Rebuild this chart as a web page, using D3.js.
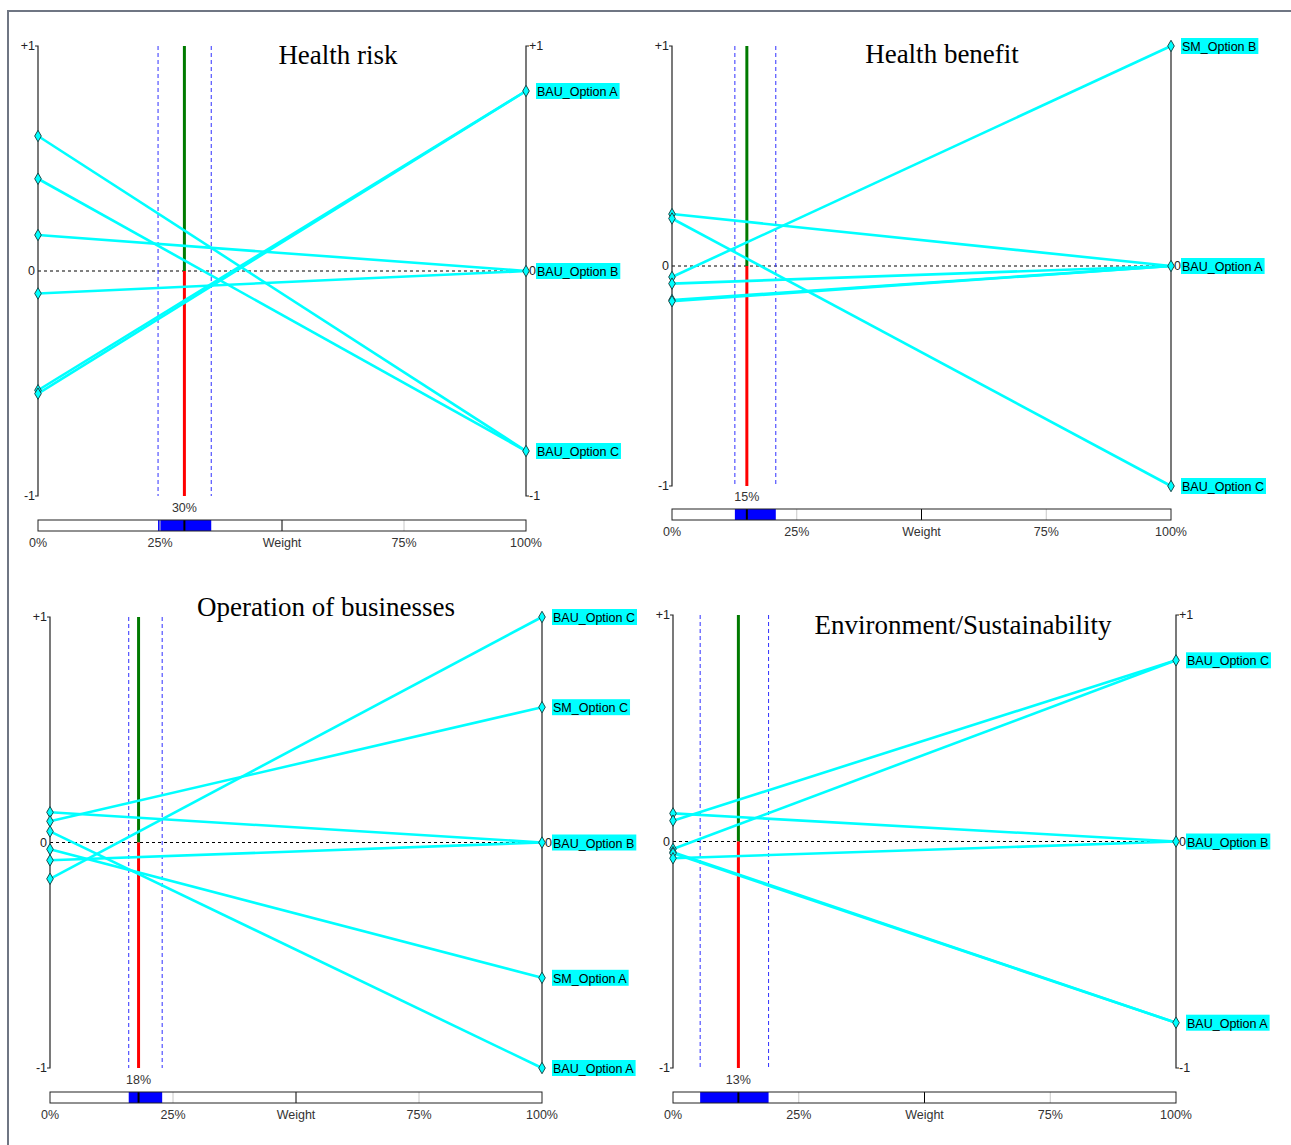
<!DOCTYPE html>
<html>
<head>
<meta charset="utf-8">
<script src="https://cdn.jsdelivr.net/npm/d3@7"></script>
<style>
  body { margin: 0; background: #fff; }
  svg { display: block; }
</style>
</head>
<body>
<svg id="chart" width="1291" height="1145"></svg>
<script>
// chart data
const titles = ['Health risk', 'Health benefit', 'Operation of businesses', 'Environment/Sustainability']
const weights = [0.30, 0.15, 0.18, 0.13]
const weightLow = [0.246, 0.126, 0.16, 0.054]
const weightHigh = [0.355, 0.208, 0.228, 0.19]
// overall value of each line at 0% weight and at 100% weight
const valuesAtZero = [
  [0.60, 0.41, 0.16, -0.10, -0.53, -0.545],
  [0.236, 0.216, -0.05, -0.08, -0.155, -0.16],
  [0.134, 0.094, 0.049, -0.03, -0.079, -0.161],
  [0.124, 0.092, -0.033, -0.047, -0.052, -0.074]
]
const valuesAtFull = [
  [-0.8, -0.8, 0, 0, 0.8, 0.8],
  [0, -1, 1, 0, 0, 0],
  [0, 0.6, -1, -0.6, 0, 1],
  [0, 0.8, 0.8, -0.8, -0.8, 0]
]
const endLabelNames = [
  ['BAU_Option A', 'BAU_Option B', 'BAU_Option C'],
  ['SM_Option B', 'BAU_Option A', 'BAU_Option C'],
  ['BAU_Option C', 'SM_Option C', 'BAU_Option B', 'SM_Option A', 'BAU_Option A'],
  ['BAU_Option C', 'BAU_Option B', 'BAU_Option A']
]
const endLabelValues = [
  [0.8, 0, -0.8],
  [1, 0, -1],
  [1, 0.6, 0, -0.6, -1],
  [0.8, 0, -0.8]
]
const axisTickValues = [1, 0, -1]
const axisTickLabels = ['+1', '0', '-1']
const barTickValues = [0, 0.25, 0.5, 0.75, 1]
const barTickLabels = ['0%', '25%', 'Weight', '75%', '100%']

// layout of the four panels
const layout = [
  { xL: 38, xR: 526, yTop: 46, yBot: 496, barY: 520, titleX: 338, titleY: 64 },
  { xL: 672, xR: 1171, yTop: 46, yBot: 486, barY: 509, titleX: 942, titleY: 63 },
  { xL: 50, xR: 542, yTop: 617, yBot: 1068, barY: 1092, titleX: 326, titleY: 616 },
  { xL: 673, xR: 1176, yTop: 615, yBot: 1068, barY: 1092, titleX: 963, titleY: 634 }
]

const svg = d3.select('#chart')
const sans = 'Liberation Sans, Arial, sans-serif'

// outer frame
svg.append('path')
  .attr('d', 'M8,1145 L8,11 L1291,11')
  .attr('fill', 'none')
  .attr('stroke', '#6f7683')
  .attr('stroke-width', 2)

titles.forEach((title, i) => {
  const L = layout[i]
  const x = d3.scaleLinear().domain([0, 1]).range([L.xL, L.xR])
  const y = d3.scaleLinear().domain([-1, 1]).range([L.yBot, L.yTop])
  const g = svg.append('g')

  // zero line
  g.append('line')
    .attr('x1', x(0)).attr('x2', x(1))
    .attr('y1', y(0)).attr('y2', y(0))
    .attr('stroke', '#000')
    .attr('stroke-dasharray', '3,3')

  // weight interval (dashed blue)
  g.selectAll('.wint')
    .data([weightLow[i], weightHigh[i]])
    .join('line')
    .attr('x1', (d) => x(d)).attr('x2', (d) => x(d))
    .attr('y1', y(1)).attr('y2', y(-1))
    .attr('stroke', '#3030ff')
    .attr('stroke-dasharray', '4,3')

  // current weight line
  g.append('line')
    .attr('x1', x(weights[i])).attr('x2', x(weights[i]))
    .attr('y1', y(1)).attr('y2', y(0))
    .attr('stroke', '#007a00')
    .attr('stroke-width', 3)
  g.append('line')
    .attr('x1', x(weights[i])).attr('x2', x(weights[i]))
    .attr('y1', y(0)).attr('y2', y(-1))
    .attr('stroke', '#ff0000')
    .attr('stroke-width', 3)

  // axes
  ;[L.xL, L.xR].forEach((ax, side) => {
    const dir = side === 0 ? -1 : 1
    g.append('path')
      .attr('d', `M${ax + dir * 3},${y(1)} L${ax},${y(1)} L${ax},${y(-1)} L${ax + dir * 3},${y(-1)}`)
      .attr('fill', 'none')
      .attr('stroke', '#222')
      .attr('stroke-width', 1.2)
    // on the right, +1/-1 are hidden under an end label sitting on them
    const ticks = side === 0
      ? axisTickValues
      : axisTickValues.filter((v) => v === 0 || !endLabelValues[i].includes(v))
    g.selectAll('.tick' + side)
      .data(ticks)
      .join('text')
      .attr('x', ax + dir * 3)
      .attr('y', (d) => y(d) + 4)
      .attr('text-anchor', side === 0 ? 'end' : 'start')
      .style('font-family', sans)
      .style('font-size', '12.5px')
      .style('fill', '#222')
      .text((d) => axisTickLabels[axisTickValues.indexOf(d)])
  })

  // sensitivity lines
  const lineData = valuesAtZero[i].map((v, k) => [v, valuesAtFull[i][k]])
  g.selectAll('.sens')
    .data(lineData)
    .join('line')
    .attr('x1', x(0)).attr('x2', x(1))
    .attr('y1', (d) => y(d[0]))
    .attr('y2', (d) => y(d[1]))
    .attr('stroke', '#00ffff')
    .attr('stroke-width', 2.6)

  const diamond = d3.symbol().type(d3.symbolDiamond).size(38)
  g.selectAll('.ptL')
    .data(valuesAtZero[i])
    .join('path')
    .attr('d', diamond)
    .attr('transform', (d) => `translate(${x(0)},${y(d)})`)
    .attr('fill', '#00ffff')
    .attr('stroke', '#1d4a4a')
    .attr('stroke-width', 1)
  g.selectAll('.ptR')
    .data(endLabelValues[i])
    .join('path')
    .attr('d', diamond)
    .attr('transform', (d) => `translate(${x(1)},${y(d)})`)
    .attr('fill', '#00ffff')
    .attr('stroke', '#1d4a4a')
    .attr('stroke-width', 1)

  // end labels
  const lab = g.selectAll('.lab')
    .data(endLabelValues[i])
    .join('g')
    .attr('transform', (d) => `translate(${x(1) + 10},${y(d)})`)
  const labText = lab.append('text')
    .attr('x', 1).attr('y', 5)
    .style('font-family', sans)
    .style('font-size', '12.5px')
    .style('fill', '#000')
    .text((d, k) => endLabelNames[i][k])
  lab.insert('rect', 'text')
    .attr('x', 0).attr('y', -8)
    .attr('width', function () { return this.parentNode.querySelector('text').getComputedTextLength() + 3 })
    .attr('height', 16)
    .attr('fill', '#00ffff')

  // title
  g.append('text')
    .attr('x', L.titleX).attr('y', L.titleY)
    .attr('text-anchor', 'middle')
    .style('font-family', 'Liberation Serif, Times New Roman, serif')
    .style('font-size', '27px')
    .style('fill', '#000')
    .text(title)

  // weight bar
  g.append('rect')
    .attr('x', x(0)).attr('y', L.barY)
    .attr('width', x(1) - x(0)).attr('height', 11)
    .attr('fill', '#fff')
  g.append('rect')
    .attr('x', x(weightLow[i])).attr('y', L.barY)
    .attr('width', x(weightHigh[i]) - x(weightLow[i])).attr('height', 11)
    .attr('fill', '#0000ff')
  g.selectAll('.btick')
    .data(barTickValues.slice(1, 4))
    .join('line')
    .attr('x1', (d) => x(d)).attr('x2', (d) => x(d))
    .attr('y1', L.barY).attr('y2', L.barY + 11)
    .attr('stroke', (d) => (d === 0.5 ? '#000' : '#c8c8c8'))
  g.append('line')
    .attr('x1', x(weights[i])).attr('x2', x(weights[i]))
    .attr('y1', L.barY).attr('y2', L.barY + 11)
    .attr('stroke', '#000')
    .attr('stroke-width', 2)
  g.append('rect')
    .attr('x', x(0)).attr('y', L.barY)
    .attr('width', x(1) - x(0)).attr('height', 11)
    .attr('fill', 'none')
    .attr('stroke', '#222')
  g.selectAll('.blab')
    .data(barTickValues)
    .join('text')
    .attr('x', (d) => x(d))
    .attr('y', L.barY + 27)
    .attr('text-anchor', 'middle')
    .style('font-family', sans)
    .style('font-size', '12.5px')
    .style('fill', '#333')
    .text((d, k) => barTickLabels[k])
  g.append('text')
    .attr('x', x(weights[i]))
    .attr('y', L.barY - 8)
    .attr('text-anchor', 'middle')
    .style('font-family', sans)
    .style('font-size', '12.5px')
    .style('fill', '#333')
    .text(Math.round(weights[i] * 100) + '%')
})
</script>
</body>
</html>
